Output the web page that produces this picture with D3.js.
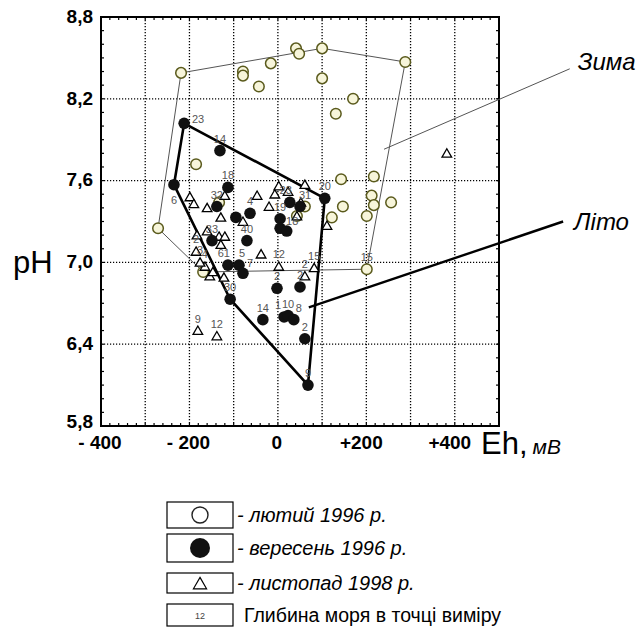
<!DOCTYPE html>
<html>
<head>
<meta charset="utf-8">
<script src="https://cdn.jsdelivr.net/npm/d3@7/dist/d3.min.js"></script>
<style>
	body { margin:0; background:#fff; }
	svg text { font-family: Arial, 'Liberation Sans', sans-serif; }
</style>
</head>
<body>
<svg id="chart" width="644" height="637"></svg>
<script>

// лютий 1996 (open circles)
var winterEh = [-219,-79,-79,-43,-16,41,48,100,100,288,170,131,-185,143,217,212,217,256,147,122,201,201,-271,61,43,-133,-169];
var winterPh = [8.39,8.40,8.37,8.29,8.46,8.57,8.53,8.57,8.35,8.47,8.20,8.09,7.72,7.61,7.63,7.49,7.42,7.44,7.41,7.33,7.34,6.95,7.25,7.41,7.34,7.44,6.93];
var winterDepth = ['','','','','','','','','','','','','','','','','','','','','','15','','','','',''];
var winterHull = [0,7,9,21,26,22];

// вересень 1996 (filled circles)
var summerEh = [-212,-131,-235,-113,-138,-95,-63,-70,-149,-113,-88,-79,-108,-2,50,-34,14,23,36,61,68,106,27,50,5,5,20];
var summerPh = [8.02,7.82,7.57,7.55,7.41,7.33,7.36,7.16,7.16,6.98,6.98,6.92,6.73,6.81,6.82,6.58,6.60,6.61,6.58,6.44,6.10,7.47,7.44,7.41,7.32,7.25,7.23];
var summerDepth = ['23','14','6','18','32','','4','40','33','61','5','7','30','2','2','14','1','10','8','2','9','20','23','31','19','18',''];
var summerHull = [2,0,21,20,12];

// листопад 1998 (triangles)
var novEh = [-199,-190,-160,-120,-129,-79,-47,-20,-7,2,23,61,52,43,111,-160,-133,-120,-129,-183,-185,-38,2,82,61,-122,-154,-165,-176,-181,-138,382,-147];
var novPh = [7.48,7.43,7.40,7.49,7.33,7.30,7.49,7.41,7.50,7.56,7.52,7.57,7.44,7.34,7.27,7.23,7.19,7.19,7.13,7.20,7.08,7.06,6.97,6.96,6.90,6.89,6.90,6.97,7.00,6.50,6.46,7.80,6.93];
var novDepth = ['','','','','','','','','','','','','','','','','','','','','2','','12','15','2','','','4','3','9','12','',''];

// axes
var xTicks = [-400,-200,0,200,400];
var xTickLabels = ['- 400','- 200','0','+200','+400'];
var yTicks = [5.8,6.4,7.0,7.6,8.2,8.8];
var yTickLabels = ['5,8','6,4','7,0','7,6','8,2','8,8'];

// legend
var legendLabels = ['- лютий 1996 р.','- вересень 1996 р.','- листопад 1998 р.','Глибина моря в точці виміру'];

// annotations: [Eh, pH] from/to
var zimaLine = [[240,7.83],[660,8.42]];
var litoLine = [[70,6.67],[645,7.30]];


//------------------------------------------------------------------
//
//------------------------------------------------------------------
var svg = d3.select('#chart'),
		x = d3.scaleLinear().domain([-400,500]).range([101,499]),
		y = d3.scaleLinear().domain([5.8,8.8]).range([426,17]),
		x0 = x.range()[0], x1 = x.range()[1],
		y0 = y.range()[1], y1 = y.range()[0];

function pts(eh,ph)	{ return eh.map((d,i)=>({ eh:d, ph:ph[i], i:i })) }

var winter = pts(winterEh,winterPh),
		summer = pts(summerEh,summerPh),
		nov = pts(novEh,novPh);


//------------------------------------------------------------------
// grid + frame + ticks
//------------------------------------------------------------------
svg.append('g').attr('class','grid')
	.call(sel=>{

		sel.selectAll('.gx').data(d3.range(-300,500,100))
			.enter().append('line')
				.attr('x1',d=>x(d)).attr('x2',d=>x(d))
				.attr('y1',y0).attr('y2',y1)
				.attr('stroke','#000').attr('stroke-width',1.3).attr('stroke-dasharray','1.2,1.8');

		sel.selectAll('.gy').data(yTicks.slice(1,-1))
			.enter().append('line')
				.attr('y1',d=>y(d)).attr('y2',d=>y(d))
				.attr('x1',x0).attr('x2',x1)
				.attr('stroke','#000').attr('stroke-width',1.3).attr('stroke-dasharray','1.2,1.8');

		// minor ticks, pointing inside
		var mx = d3.range(-400,501,20), my = d3.range(58,89,1).map(d=>d/10);
		sel.selectAll('.tb').data(mx).enter().append('line')
			.attr('x1',d=>x(d)).attr('x2',d=>x(d)).attr('y1',y1).attr('y2',y1-3)
			.attr('stroke','#000').attr('stroke-width',1.2);
		sel.selectAll('.tt').data(mx).enter().append('line')
			.attr('x1',d=>x(d)).attr('x2',d=>x(d)).attr('y1',y0).attr('y2',y0+3)
			.attr('stroke','#000').attr('stroke-width',1.2);
		sel.selectAll('.tl').data(my).enter().append('line')
			.attr('y1',d=>y(d)).attr('y2',d=>y(d)).attr('x1',x0).attr('x2',x0+3)
			.attr('stroke','#000').attr('stroke-width',1.2);
		sel.selectAll('.tr').data(my).enter().append('line')
			.attr('y1',d=>y(d)).attr('y2',d=>y(d)).attr('x1',x1).attr('x2',x1-3)
			.attr('stroke','#000').attr('stroke-width',1.2);

		sel.append('rect')
			.attr('x',x0).attr('y',y0).attr('width',x1-x0).attr('height',y1-y0)
			.attr('fill','none').attr('stroke','#000').attr('stroke-width',2);
	});


//------------------------------------------------------------------
// tick labels + axis titles
//------------------------------------------------------------------
svg.append('g').selectAll('text').data(yTicks)
	.enter().append('text')
		.attr('x',x0-8).attr('y',d=>y(d)).attr('dy',d=>d<6 ? '0.1em' : '0.3em')
		.attr('text-anchor','end').attr('font-size',19).attr('font-weight','bold')
		.text((d,i)=>yTickLabels[i]);

svg.append('g').selectAll('text').data(xTicks)
	.enter().append('text')
		.attr('x',d=>x(d)-(d>0?5:1)).attr('y',y1+23)
		.attr('text-anchor','middle').attr('font-size',19).attr('font-weight','bold')
		.text((d,i)=>xTickLabels[i]);

svg.append('text').attr('x',13).attr('y',y(7.0)+11).attr('font-size',31).text('pH');
svg.append('text').attr('x',481).attr('y',y1+28)
	.call(t=>{
		t.append('tspan').attr('font-size',31).text('Eh,');
		t.append('tspan').attr('font-size',21).attr('font-style','italic').attr('dx',5).text('мВ');
	});


//------------------------------------------------------------------
// hulls + annotation lines
//------------------------------------------------------------------
var line = d3.line().x(d=>x(d.eh)).y(d=>y(d.ph));

svg.append('path')
	.attr('d',line(winterHull.map(i=>winter[i]))+'Z')
	.attr('fill','none').attr('stroke','#555').attr('stroke-width',1);

svg.append('path')
	.attr('d',line(summerHull.map(i=>summer[i]))+'Z')
	.attr('fill','none').attr('stroke','#000').attr('stroke-width',2.6).attr('stroke-linejoin','round');

var aline = d3.line().x(d=>x(d[0])).y(d=>y(d[1]));
svg.append('path').attr('d',aline(zimaLine)).attr('stroke','#555').attr('stroke-width',1).attr('fill','none');
svg.append('path').attr('d',aline(litoLine)).attr('stroke','#000').attr('stroke-width',2.4).attr('fill','none');

svg.append('text').attr('x',x(zimaLine[1][0])+8).attr('y',y(zimaLine[1][1])+1)
	.attr('font-size',24).attr('font-style','italic').text('Зима');
svg.append('text').attr('x',x(litoLine[1][0])+11).attr('y',y(litoLine[1][1])+8)
	.attr('font-size',24).attr('font-style','italic').text('Літо');


//------------------------------------------------------------------
// points
//------------------------------------------------------------------
var tri = d3.symbol().type(d3.symbolTriangle).size(40);

svg.append('g').selectAll('circle').data(winter)
	.enter().append('circle')
		.attr('cx',d=>x(d.eh)).attr('cy',d=>y(d.ph)).attr('r',5.3)
		.attr('fill','#f7f5da').attr('stroke','#5a5a1c').attr('stroke-width',1.5);

svg.append('g').selectAll('path').data(nov)
	.enter().append('path')
		.attr('d',tri)
		.attr('transform',d=>'translate('+x(d.eh)+','+(y(d.ph)+1)+')')
		.attr('fill','#fff').attr('stroke','#000').attr('stroke-width',1.3);

svg.append('g').selectAll('circle').data(summer)
	.enter().append('circle')
		.attr('cx',d=>x(d.eh)).attr('cy',d=>y(d.ph)).attr('r',5.8)
		.attr('fill','#111');


//------------------------------------------------------------------
// depth labels
//------------------------------------------------------------------
function depthLabels(data,depth)	{
	svg.append('g').selectAll('text').data(data.filter(d=>depth[d.i]))
		.enter().append('text')
			.attr('x',d=>x(d.eh)).attr('y',d=>y(d.ph)-8)
			.attr('text-anchor','middle').attr('font-size',11).attr('fill','#555')
			.text(d=>depth[d.i]);
}
depthLabels(winter,winterDepth);
depthLabels(nov,novDepth);
depthLabels(summer,summerDepth);

// a few labels sit beside / below their dot
function moveLabel(d,dx,dy,anchor)	{
	svg.selectAll('text').filter(function(e){ return e===d })
		.attr('x',x(d.eh)+dx).attr('y',y(d.ph)+dy).attr('text-anchor',anchor||'middle');
}
moveLabel(summer[0],14,0);
moveLabel(summer[2],0,19);
moveLabel(summer[9],2,-8,'end');
moveLabel(summer[10],0,-8,'start');
moveLabel(summer[11],4,-6,'start');
moveLabel(summer[16],-3,-8,'end');
moveLabel(summer[18],2,-8,'start');
moveLabel(summer[22],2,-8,'end');
moveLabel(summer[23],-1,-8,'start');
moveLabel(summer[25],6,-3,'start');

</script>
<script>
//------------------------------------------------------------------
// legend
//------------------------------------------------------------------
d3.select('#chart').append('g').attr('class','legend')
	.call(sel=>{

		var bx = 167, bw = 66, rows = [[502,26],[534,28],[573,20],[604,22]];

		rows.forEach((r,i)=>{
			sel.append('rect').attr('x',bx).attr('y',r[0]).attr('width',bw).attr('height',r[1])
				.attr('fill','#fff').attr('stroke','#000').attr('stroke-width',1.2);
			sel.append('text')
				.attr('x',i<3 ? bx+bw+4 : bx+bw+11).attr('y',r[0]+r[1]/2+7)
				.attr('font-size',i<3 ? 20 : 19.5).attr('font-style',i<3?'italic':'normal')
				.text(legendLabels[i]);
		});

		var cx = bx+bw/2;
		sel.append('circle').attr('cx',cx).attr('cy',515).attr('r',8)
			.attr('fill','#fff').attr('stroke','#222').attr('stroke-width',1.4);
		sel.append('circle').attr('cx',cx).attr('cy',548).attr('r',10).attr('fill','#111');
		sel.append('path').attr('d',d3.symbol().type(d3.symbolTriangle).size(75))
			.attr('transform','translate('+cx+',585)')
			.attr('fill','#fff').attr('stroke','#000').attr('stroke-width',1.2);
		sel.append('text').attr('x',cx).attr('y',619).attr('text-anchor','middle')
			.attr('font-size',9).attr('fill','#444').text('12');
	});
</script>
</body>
</html>
